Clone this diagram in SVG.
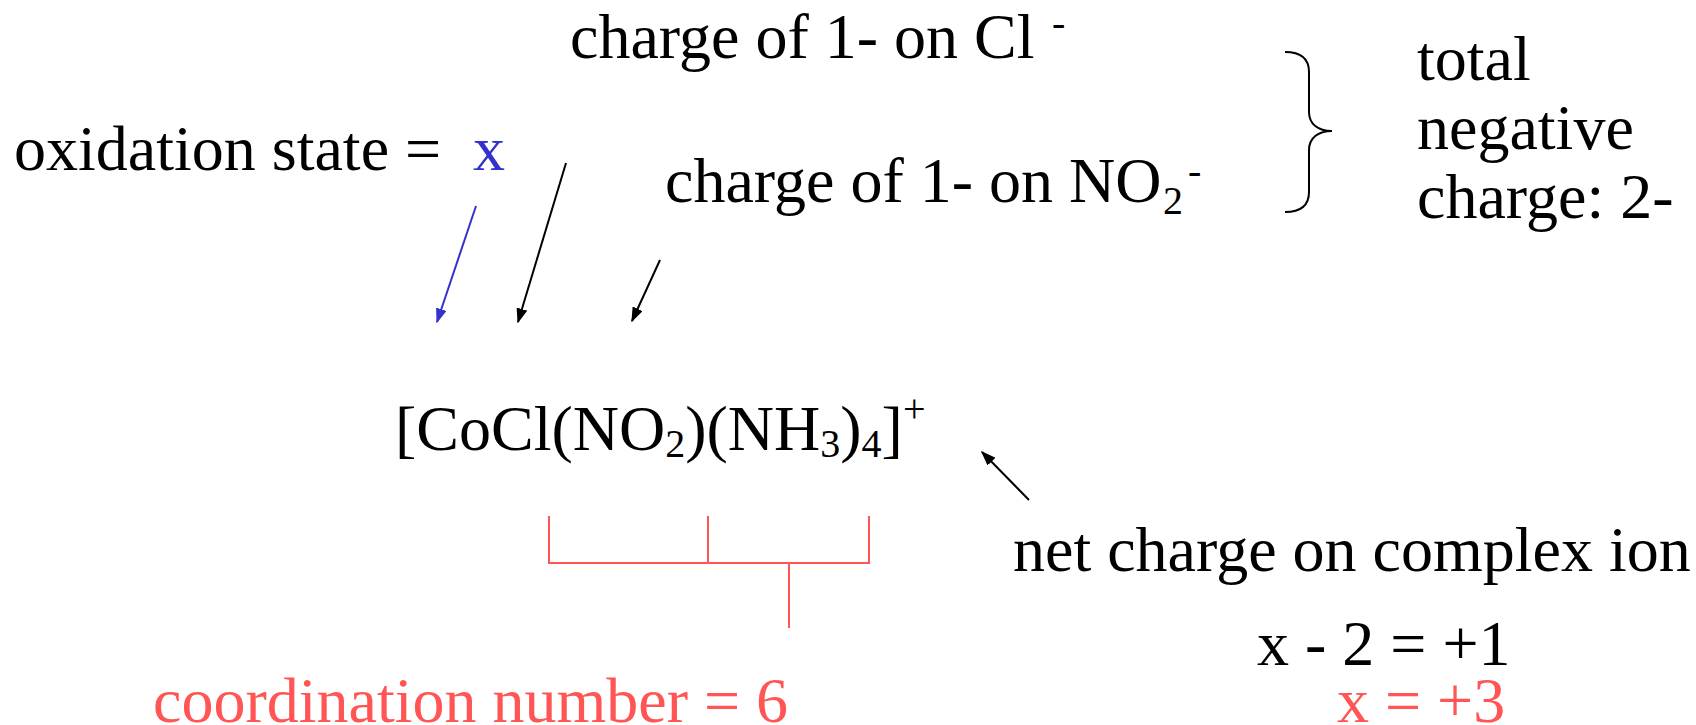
<svg xmlns="http://www.w3.org/2000/svg" width="1696" height="725" viewBox="0 0 1696 725">
  <style>
    text { font-family: "Liberation Serif", "Times New Roman", serif; font-size: 64px; fill: #000; }
    .blue { fill: #3333CC; }
    .red { fill: #FF5555; }
    .sub { font-size: 40px; }
    .ln { stroke: #000; stroke-width: 2; fill: none; }
    .lnb { stroke: #3333CC; stroke-width: 2; fill: none; }
    .rl { stroke: #FF5555; stroke-width: 2; fill: none; }
  </style>
  <defs>
    <marker id="ah" viewBox="0 0 10 10" refX="9" refY="5" markerWidth="15" markerHeight="11" markerUnits="userSpaceOnUse" orient="auto" preserveAspectRatio="none">
      <path d="M0,0 L10,5 L0,10 z" fill="#000"/>
    </marker>
    <marker id="ahb" viewBox="0 0 10 10" refX="9" refY="5" markerWidth="15" markerHeight="11" markerUnits="userSpaceOnUse" orient="auto" preserveAspectRatio="none">
      <path d="M0,0 L10,5 L0,10 z" fill="#3333CC"/>
    </marker>
  </defs>

  <rect width="1696" height="725" fill="#fff"/>

  <g id="oxidation-state">
    <text x="14" y="170">oxidation state = </text>
    <text x="473" y="170" class="blue">x</text>
  </g>

  <g id="charge-cl">
    <text x="570" y="58">charge of 1- on Cl</text>
    <text x="1052" y="36" class="sub">-</text>
  </g>

  <g id="charge-no2">
    <text x="665" y="202">charge of 1- on NO</text>
    <text x="1163" y="214" class="sub">2</text>
    <text x="1188" y="184" class="sub">-</text>
  </g>

  <g id="total-negative">
    <path class="ln" stroke-width="1.6" d="M1285,52 C1300,52 1309,58 1309,72 L1309,112 C1309,124 1318,131 1332,131 C1318,131 1309,138 1309,150 L1309,192 C1309,206 1300,212 1285,212"/>
    <text x="1417" y="80">total</text>
    <text x="1417" y="149">negative</text>
    <text x="1417" y="218">charge: 2-</text>
  </g>

  <g id="complex-ion">
    <text x="395" y="450" font-size="65">[CoCl(NO<tspan class="sub" dy="7">2</tspan><tspan dy="-7">)(NH</tspan><tspan class="sub" dy="7">3</tspan><tspan dy="-7">)</tspan><tspan class="sub" dy="7">4</tspan><tspan dy="-7">]</tspan><tspan class="sub" dy="-28">+</tspan></text>
  </g>

  <g id="net-charge">
    <text x="1013" y="571">net charge on complex ion</text>
    <text x="1257" y="665" font-size="63">x - 2 = +1</text>
    <text x="1337" y="722" class="red" font-size="63">x = +3</text>
  </g>

  <g id="coordination-number">
    <polyline class="rl" points="549,516 549,563 869,563 869,516"/>
    <line class="rl" x1="708" y1="516" x2="708" y2="563"/>
    <line class="rl" x1="789" y1="563" x2="789" y2="628"/>
    <text x="153" y="722" class="red">coordination number = 6</text>
  </g>

  <g id="connectors">
    <line class="lnb" x1="476" y1="206" x2="437" y2="322" marker-end="url(#ahb)"/>
    <line class="ln" x1="566" y1="163" x2="518" y2="322" marker-end="url(#ah)"/>
    <line class="ln" x1="660" y1="260" x2="632" y2="321" marker-end="url(#ah)"/>
    <line class="ln" x1="1029" y1="500" x2="982" y2="452" marker-end="url(#ah)"/>
  </g>
</svg>
